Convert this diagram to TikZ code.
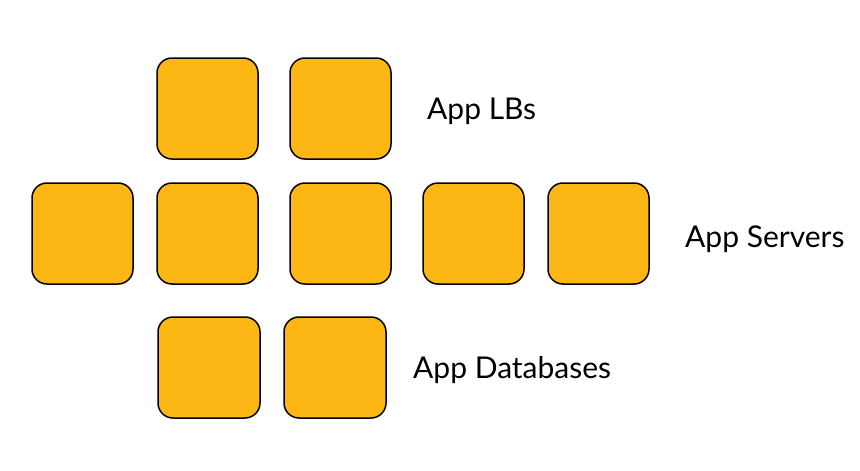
\documentclass[tikz,border=0pt]{standalone}
\usepackage{fontspec}
\setmainfont{Lato}
\definecolor{boxfill}{RGB}{253,183,20}
\begin{document}
\begin{tikzpicture}[x=1pt,y=-1pt,
  unitbox/.style={draw=black,fill=boxfill,line width=1.5pt,rounded corners=15pt,
    minimum width=101pt,minimum height=101pt,inner sep=0pt,outer sep=0pt},
  lbl/.style={anchor=base west,inner sep=0pt,font=\fontsize{30}{36}\selectfont}]
\useasboundingbox (0,0) rectangle (860,471);
% row 1
\node[unitbox] (lb1) at (207.5,108.5) {};
\node[unitbox] (lb2) at (340.5,108.5) {};
\node[lbl] (lbs) at (427,119) {App LBs};
% row 2
\node[unitbox] (s1) at (82.5,233.5) {};
\node[unitbox] (s2) at (207.5,233.5) {};
\node[unitbox] (s3) at (340.5,233.5) {};
\node[unitbox] (s4) at (473.5,233.5) {};
\node[unitbox] (s5) at (598.5,233.5) {};
\node[lbl] (servers) at (685,247) {App Servers};
% row 3
\node[unitbox,minimum width=102pt] (d1) at (209,367.5) {};
\node[unitbox,minimum width=102pt] (d2) at (335,367.5) {};
\node[lbl] (dbs) at (413,378) {App Databases};
\end{tikzpicture}
\end{document}
